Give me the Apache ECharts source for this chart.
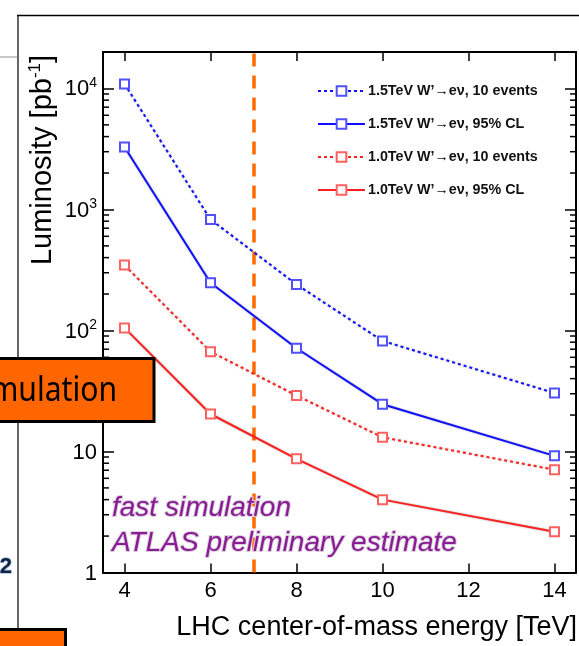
<!DOCTYPE html>
<html>
<head>
<meta charset="utf-8">
<script src="https://cdn.jsdelivr.net/npm/echarts@6/dist/echarts.min.js"></script>
<style>
  html, body { margin: 0; padding: 0; background: #fff; }
  #chart { width: 579px; height: 646px; }
</style>
</head>
<body>
<div id="chart"></div>
<script>
// LHC centre-of-mass energies [TeV]
const energies = [4, 6, 8, 10, 14];

// Integrated luminosity needed [pb^-1]
const w15Events = [10900, 826, 240, 82, 30.4];   // 1.5 TeV W', 10 events
const w15CL     = [3280, 248, 71.3, 24.6, 9.2];   // 1.5 TeV W', 95% CL
const w10Events = [347, 66.8, 29, 13.1, 7.07];    // 1.0 TeV W', 10 events
const w10CL     = [105, 20.4, 8.7, 4.0, 2.17];    // 1.0 TeV W', 95% CL

const seriesNames = [
  '1.5TeV W’→eν, 10 events',
  '1.5TeV W’→eν, 95% CL',
  '1.0TeV W’→eν, 10 events',
  '1.0TeV W’→eν, 95% CL'
];

const xTicks = [4, 6, 8, 10, 12, 14];
const yDecades = [1, 10, 100, 1000, 10000];
const runEnergy = 7;   // current LHC running energy

const X_MIN = 3.5, X_MAX = 14.5, Y_MIN = 1, Y_MAX = 20000;
const FONT = '"Liberation Sans", Arial, Helvetica, sans-serif';

// minor ticks of the log axis: 2..9 x 10^k
const minorTicks = [];
for (let k = 0; k <= 4; k++) {
  for (let m = 2; m <= 9; m++) {
    const v = m * Math.pow(10, k);
    if (v < Y_MAX) minorTicks.push(v);
  }
}

const pair = (ys) => energies.map((e, i) => [e, ys[i]]);

function lineSeries(name, ys, color, markerColor, dotted) {
  return {
    name: name,
    type: 'line',
    data: pair(ys),
    symbol: 'emptyRect',
    symbolSize: 9,
    showAllSymbol: true,
    itemStyle: { color: markerColor, borderColor: markerColor, borderWidth: 1.5 },
    lineStyle: {
      color: color,
      width: 2,
      type: dotted ? [3, 3] : 'solid',
      shadowColor: 'rgba(0,0,0,0.35)',
      shadowBlur: 2
    },
    emphasis: { disabled: true },
    z: 5
  };
}

function yLabel(v) {
  if (v === 1) return '{b|1}';
  if (v === 10) return '{b|10}';
  return '{b|10}{s|' + Math.round(Math.log10(v)) + '}';
}

const labelRich = {
  b: { fontSize: 22, fontFamily: FONT, color: '#000', verticalAlign: 'bottom', lineHeight: 24 },
  s: { fontSize: 14, fontFamily: FONT, color: '#000', verticalAlign: 'top', lineHeight: 14, padding: [0, 0, 12, 0] }
};

const chart = echarts.init(document.getElementById('chart'), null, { renderer: 'canvas' });

chart.setOption({
  animation: false,
  backgroundColor: '#fff',
  grid: { left: 103, right: 3, top: 52, bottom: 73.5, containLabel: false },
  legend: {
    orient: 'vertical',
    left: 312,
    top: 79,
    itemWidth: 47,
    itemHeight: 12,
    itemGap: 19,
    data: seriesNames,
    textStyle: { fontFamily: FONT, fontWeight: 'bold', fontSize: 14.3, color: '#111', padding: [0, 0, 0, -2] },
    selectedMode: false
  },
  xAxis: [
    {
      type: 'value', position: 'bottom', min: X_MIN, max: X_MAX,
      axisLine: { show: true, onZero: false, lineStyle: { color: '#000', width: 2 } },
      axisTick: { show: true, inside: true, length: 9, customValues: xTicks, lineStyle: { color: '#000', width: 1.5 } },
      axisLabel: { show: true, customValues: xTicks, fontSize: 22, fontFamily: FONT, color: '#000', margin: 7 },
      splitLine: { show: false }
    },
    {
      type: 'value', position: 'top', min: X_MIN, max: X_MAX,
      axisLine: { show: true, onZero: false, lineStyle: { color: '#000', width: 2 } },
      axisTick: { show: true, inside: true, length: 9, customValues: xTicks, lineStyle: { color: '#000', width: 1.5 } },
      axisLabel: { show: false },
      splitLine: { show: false }
    }
  ],
  yAxis: [
    {
      type: 'log', logBase: 10, position: 'left', min: Y_MIN, max: Y_MAX,
      axisLine: { show: true, onZero: false, lineStyle: { color: '#000', width: 2 } },
      axisTick: { show: true, inside: true, length: 11, customValues: yDecades, lineStyle: { color: '#000', width: 1.5 } },
      axisLabel: { show: true, customValues: yDecades, formatter: yLabel, rich: labelRich, margin: 6 },
      splitLine: { show: false }
    },
    {
      type: 'log', logBase: 10, position: 'right', min: Y_MIN, max: Y_MAX,
      axisLine: { show: true, onZero: false, lineStyle: { color: '#000', width: 2 } },
      axisTick: { show: true, inside: true, length: 11, customValues: yDecades, lineStyle: { color: '#000', width: 1.5 } },
      axisLabel: { show: false },
      splitLine: { show: false }
    }
  ],
  series: [
    Object.assign(lineSeries(seriesNames[0], w15Events, '#1010ff', '#5050ff', true), {
      markLine: {
        silent: true,
        symbol: ['none', 'none'],
        label: { show: false },
        lineStyle: { color: '#ff6a00', width: 3.5, type: [13, 9] },
        data: [{ xAxis: runEnergy }]
      }
    }),
    lineSeries(seriesNames[1], w15CL, '#1010ff', '#5050ff', false),
    lineSeries(seriesNames[2], w10Events, '#ff2020', '#ff6060', true),
    lineSeries(seriesNames[3], w10CL, '#ff2020', '#ff6060', false),
    {
      // minor ticks on both log axes
      type: 'custom',
      silent: true,
      clip: false,
      data: minorTicks.map(v => [X_MIN, v]),
      renderItem: function (params, api) {
        const v = api.value(1);
        const l = api.coord([X_MIN, v]);
        const r = api.coord([X_MAX, v]);
        const st = { stroke: '#000', lineWidth: 1.5 };
        return {
          type: 'group',
          children: [
            { type: 'line', shape: { x1: l[0], y1: l[1], x2: l[0] + 6, y2: l[1] }, style: st },
            { type: 'line', shape: { x1: r[0] - 6, y1: r[1], x2: r[0], y2: r[1] }, style: st }
          ]
        };
      },
      z: 3
    }
  ],
  graphic: [
    // axis titles
    {
      type: 'text', x: 577, y: 628,
      style: {
        text: 'LHC center-of-mass energy [TeV]',
        font: '27px ' + FONT, fill: '#000', align: 'right', verticalAlign: 'middle'
      }
    },
    {
      type: 'text', x: 42, y: 160, rotation: Math.PI / 2,
      style: {
        text: '{a|Luminosity [pb}{s|-1}{a|]}',
        align: 'center', verticalAlign: 'middle',
        rich: {
          a: { fontSize: 29, fontFamily: FONT, fill: '#000', color: '#000', verticalAlign: 'bottom', lineHeight: 30 },
          s: { fontSize: 17, fontFamily: FONT, fill: '#000', color: '#000', verticalAlign: 'top', lineHeight: 17, padding: [0, 0, 13, 0] }
        }
      }
    },
    // annotations
    {
      type: 'text', x: 112, y: 508, z: 20,
      style: {
        text: 'fast simulation',
        font: 'italic 28px ' + FONT, fill: '#8b1a95',
        stroke: '#d9cfdc', lineWidth: 2,
        align: 'left', verticalAlign: 'middle'
      }
    },
    {
      type: 'text', x: 112, y: 543, z: 20,
      style: {
        text: 'ATLAS preliminary estimate',
        font: 'italic 28px ' + FONT, fill: '#8b1a95',
        stroke: '#d9cfdc', lineWidth: 2,
        align: 'left', verticalAlign: 'middle'
      }
    },
    // slide frame around the figure
    { type: 'line', z: 50, shape: { x1: 17, y1: 15.5, x2: 579, y2: 15.5 }, style: { stroke: '#000', lineWidth: 1.5 } },
    { type: 'line', z: 50, shape: { x1: 18, y1: 15, x2: 18, y2: 628 }, style: { stroke: '#000', lineWidth: 1.2 } },
    { type: 'line', z: 50, shape: { x1: 0, y1: 57, x2: 17, y2: 57 }, style: { stroke: '#c8c8c8', lineWidth: 2 } },
    {
      type: 'text', x: 12, y: 567, z: 50,
      style: {
        text: '2',
        fontSize: 22, fontWeight: 'bold', fontFamily: 'Liberation Sans',
        fill: '#15223f', stroke: '#a9c4ee', lineWidth: 1.5,
        align: 'right', verticalAlign: 'middle'
      }
    },
    // orange call-out boxes
    {
      type: 'rect', z: 60,
      shape: { x: -10, y: 358.5, width: 164, height: 63 },
      style: { fill: '#ff6600', stroke: '#000', lineWidth: 3 }
    },
    {
      type: 'text', z: 61, x: 117, y: 391, scaleX: 0.86,
      style: { text: 'Simulation', font: '35px "Noto Sans", "Open Sans", sans-serif', fill: '#000', align: 'right', verticalAlign: 'middle' }
    },
    {
      type: 'rect', z: 60,
      shape: { x: -10, y: 629.5, width: 75.5, height: 30 },
      style: { fill: '#ff6600', stroke: '#000', lineWidth: 3 }
    }
  ]
});
</script>
</body>
</html>
